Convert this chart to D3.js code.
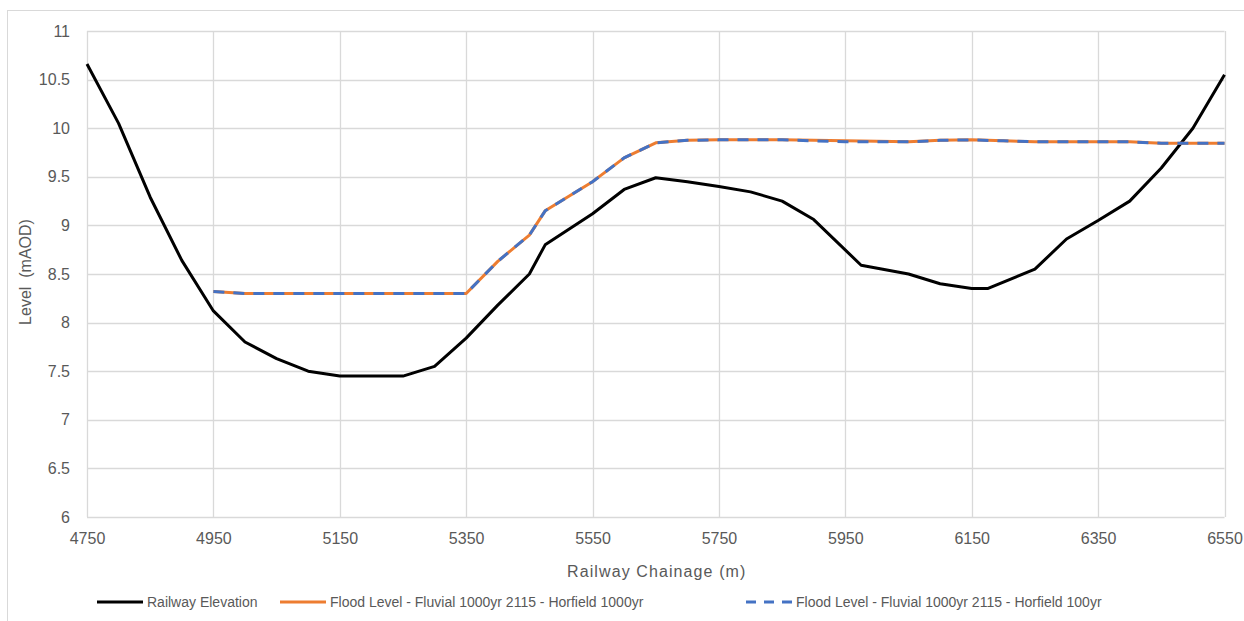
<!DOCTYPE html>
<html>
<head>
<meta charset="utf-8">
<script src="https://cdn.jsdelivr.net/npm/d3@7"></script>
<style>
  body { margin: 0; background: #fff; }
  svg { display: block; font-family: "Liberation Sans", Arial, sans-serif; }
</style>
</head>
<body>
<div id="chart"></div>
<script>
"use strict";
// Railway elevation profile
let railChainage = [4750, 4800, 4850, 4900, 4950, 5000, 5050, 5100, 5150, 5200, 5250, 5300, 5350, 5400, 5450, 5475,
    5550, 5600, 5650, 5700, 5750, 5800, 5850, 5900, 5975, 6050, 6100, 6150, 6175, 6250, 6300, 6350, 6400, 6450, 6500, 6550];
let railLevel = [10.66, 10.05, 9.29, 8.64, 8.12, 7.80, 7.63, 7.50, 7.45, 7.45, 7.45, 7.55, 7.84, 8.18, 8.50, 8.80,
    9.12, 9.37, 9.49, 9.45, 9.40, 9.345, 9.25, 9.06, 8.59, 8.50, 8.40, 8.35, 8.35, 8.55, 8.86, 9.05, 9.25, 9.59, 10.0, 10.55];

// Flood levels
let floodChainage = [4950, 5000, 5050, 5100, 5150, 5200, 5250, 5300, 5350, 5400, 5450, 5475, 5550, 5600, 5650, 5700,
    5750, 5800, 5850, 5900, 5950, 6000, 6050, 6100, 6150, 6200, 6250, 6300, 6350, 6400, 6450, 6500, 6550];
let flood1000 = [8.32, 8.30, 8.30, 8.30, 8.30, 8.30, 8.30, 8.30, 8.30, 8.63, 8.90, 9.15, 9.45, 9.695, 9.85, 9.875,
    9.88, 9.88, 9.88, 9.875, 9.87, 9.865, 9.86, 9.875, 9.88, 9.87, 9.86, 9.86, 9.86, 9.86, 9.845, 9.845, 9.845];
let flood100 = [8.32, 8.30, 8.30, 8.30, 8.30, 8.30, 8.30, 8.30, 8.30, 8.63, 8.90, 9.15, 9.45, 9.695, 9.85, 9.875,
    9.88, 9.88, 9.88, 9.87, 9.86, 9.86, 9.86, 9.875, 9.88, 9.87, 9.86, 9.86, 9.86, 9.86, 9.845, 9.845, 9.845];

let xTicks = [4750, 4950, 5150, 5350, 5550, 5750, 5950, 6150, 6350, 6550];
let yTicks = [6, 6.5, 7, 7.5, 8, 8.5, 9, 9.5, 10, 10.5, 11];

let seriesNames = ["Railway Elevation",
    "Flood Level - Fluvial 1000yr 2115 - Horfield 1000yr",
    "Flood Level - Fluvial 1000yr 2115 - Horfield 100yr"];

let W = 1244, H = 621;
let margin = { top: 31, right: 19.5, bottom: 104, left: 87 };
let width = W - margin.left - margin.right,
    height = H - margin.top - margin.bottom;

let svg = d3.select("#chart").append("svg")
    .attr("width", W)
    .attr("height", H);

// chart frame (only top and left edges show in the picture)
svg.append("rect")
    .attr("x", 7.5).attr("y", 10.5)
    .attr("width", W + 20).attr("height", H + 20)
    .style("fill", "none")
    .style("stroke", "#d9d9d9")
    .style("stroke-width", 1);

let g = svg.append("g")
    .attr("transform", "translate(" + margin.left + "," + margin.top + ")");

let x = d3.scaleLinear().domain([4750, 6550]).range([0, width]);
let y = d3.scaleLinear().domain([6, 11]).range([height, 0]);

// gridlines
g.append("g").selectAll("line.h")
    .data(yTicks).enter().append("line")
    .attr("x1", 0).attr("x2", width)
    .attr("y1", d => Math.round(y(d)) + 0.5).attr("y2", d => Math.round(y(d)) + 0.5)
    .style("stroke", "#d9d9d9").style("stroke-width", 1.3);
g.append("g").selectAll("line.v")
    .data(xTicks).enter().append("line")
    .attr("y1", 0).attr("y2", height)
    .attr("x1", d => Math.round(x(d)) + 0.5).attr("x2", d => Math.round(x(d)) + 0.5)
    .style("stroke", "#d9d9d9").style("stroke-width", 1.3);

// axes (labels only)
let xAxis = g.append("g")
    .attr("transform", "translate(0," + height + ")")
    .call(d3.axisBottom(x).tickValues(xTicks).tickSize(0).tickPadding(16).tickFormat(d3.format("d")));
let yAxis = g.append("g")
    .call(d3.axisLeft(y).tickValues(yTicks).tickSize(0).tickPadding(17).tickFormat(d => d));
[xAxis, yAxis].forEach(a => {
    a.select(".domain").remove();
    a.selectAll("text")
        .style("font-family", "\"Liberation Sans\", Arial, sans-serif")
        .style("font-size", "16px")
        .style("fill", "#595959");
});

// axis titles
g.append("text")
    .attr("x", width / 2 + 1)
    .attr("y", height + 60)
    .style("text-anchor", "middle")
    .style("font-size", "16px")
    .style("letter-spacing", "1.1px")
    .style("fill", "#595959")
    .text("Railway Chainage (m)");

g.append("text")
    .attr("transform", "rotate(-90)")
    .attr("x", -(height / 2) + 2)
    .attr("y", -margin.left + 31)
    .style("text-anchor", "middle")
    .style("font-size", "16px")
    .style("white-space", "pre")
    .style("fill", "#595959")
    .text("Level  (mAOD)");

// lines
let rail = railChainage.map((c, i) => ({ c: c, v: railLevel[i] }));
let f1000 = floodChainage.map((c, i) => ({ c: c, v: flood1000[i] }));
let f100 = floodChainage.map((c, i) => ({ c: c, v: flood100[i] }));

let line = d3.line()
    .x(d => x(d.c))
    .y(d => y(d.v));

g.append("path").datum(rail)
    .attr("d", line)
    .style("fill", "none")
    .style("stroke", "#000")
    .style("stroke-width", 3)
    .style("stroke-linejoin", "round");

g.append("path").datum(f1000)
    .attr("d", line)
    .style("fill", "none")
    .style("stroke", "#ED7D31")
    .style("stroke-width", 3)
    .style("stroke-linejoin", "round");

g.append("path").datum(f100)
    .attr("d", line)
    .style("fill", "none")
    .style("stroke", "#4472C4")
    .style("stroke-width", 3)
    .style("stroke-dasharray", "11,9");

// legend
let legendY = 602;
let legendItems = [
    { x: 97, color: "#000", dash: null },
    { x: 280, color: "#ED7D31", dash: null },
    { x: 746, color: "#4472C4", dash: "10,8" }
];
let legend = svg.append("g");
legendItems.forEach((item, i) => {
    legend.append("line")
        .attr("x1", item.x).attr("x2", item.x + 46)
        .attr("y1", legendY).attr("y2", legendY)
        .style("stroke", item.color)
        .style("stroke-width", 3)
        .style("stroke-dasharray", item.dash);
    legend.append("text")
        .attr("x", item.x + 50)
        .attr("y", legendY)
        .attr("dy", "0.35em")
        .style("font-size", "14px")
        .style("fill", "#595959")
        .text(seriesNames[i]);
});
</script>
</body>
</html>
